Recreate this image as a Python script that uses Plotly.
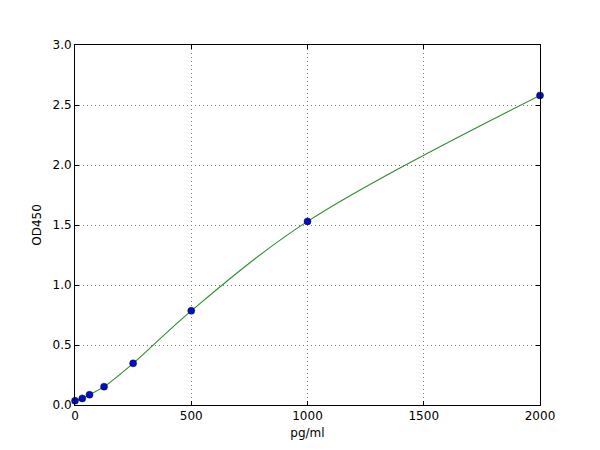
import plotly.graph_objects as go

# standard curve data
conc = [0, 31.25, 62.5, 125, 250, 500, 1000, 2000]
od = [0.036, 0.055, 0.086, 0.153, 0.347, 0.785, 1.53, 2.58]

x_ticks = [0, 500, 1000, 1500, 2000]
y_ticks = [0.0, 0.5, 1.0, 1.5, 2.0, 2.5, 3.0]

fig = go.Figure()
fig.add_trace(go.Scatter(x=conc, y=od, mode='lines',
                         line=dict(color='#2a8f2a', width=1.1, shape='spline', smoothing=1.0),
                         hoverinfo='skip', showlegend=False))
fig.add_trace(go.Scatter(x=conc, y=od, mode='markers',
                         marker=dict(color='#0010c0', size=7, line=dict(color='#000033', width=0.5)),
                         showlegend=False, cliponaxis=False))

axis_style = dict(showline=True, linecolor='black', linewidth=1, mirror='ticks',
                  ticks='inside', ticklen=4, tickcolor='black',
                  showgrid=True, gridcolor='#777777', griddash='1px,3px', gridwidth=1,
                  zeroline=False, tickfont=dict(size=12, color='black'))

fig.update_xaxes(range=[0, 2000], tickvals=x_ticks, ticktext=[str(v) for v in x_ticks],
                 title=dict(text='pg/ml', font=dict(size=12, color='black'), standoff=6), **axis_style)
fig.update_yaxes(range=[0, 3.0], tickvals=y_ticks, ticktext=['%.1f' % v for v in y_ticks],
                 title=dict(text='OD450', font=dict(size=12, color='black'), standoff=8), **axis_style)

# page body has an 8px margin, so shift the plot box up/left
fig.update_layout(width=600, height=450, margin=dict(l=67, r=68, t=37, b=53),
                  plot_bgcolor='white', paper_bgcolor='white',
                  font=dict(family='DejaVu Sans', size=12, color='black'))

fig.write_html("out.html")
